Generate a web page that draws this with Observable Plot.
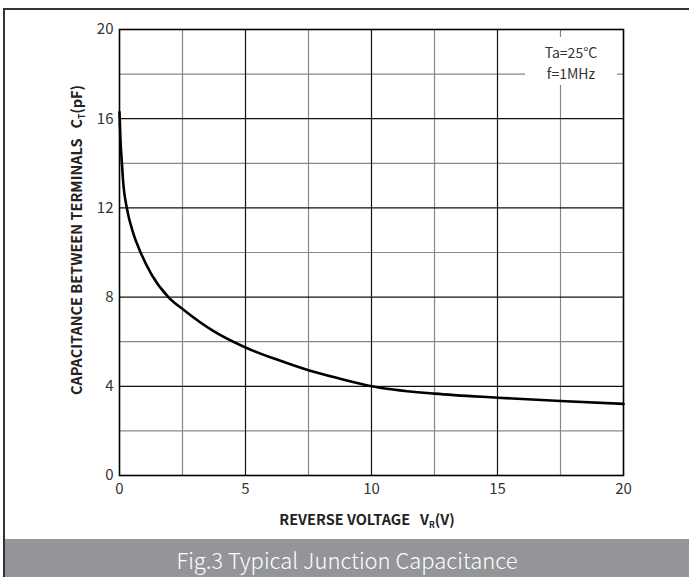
<!DOCTYPE html>
<html>
<head>
<meta charset="utf-8">
<script src="https://cdn.jsdelivr.net/npm/d3@7"></script>
<script src="https://cdn.jsdelivr.net/npm/@observablehq/plot@0.6"></script>
<style>
  html, body { margin: 0; padding: 0; background: #fff; }
  body { width: 689px; height: 577px; position: relative; overflow: hidden; font-family: "Noto Sans CJK SC", "Noto Sans", sans-serif; }
  #frame { position: absolute; left: 3px; top: 8px; width: 720px; height: 620px; border-left: 2px solid #333; border-top: 2px solid #333; box-sizing: border-box; }
  #chart { position: absolute; left: 0; top: 0; }
  #legend { position: absolute; left: 525px; top: 37px; width: 92px; height: 48px; background: #fff; color: #333; font-size: 14px; line-height: 21px; text-align: center; padding-top: 5px; box-sizing: border-box; }
  #caption { position: absolute; left: 5px; top: 539px; width: 684px; height: 38px; background: #939598; color: #fff; font-size: 22px; font-weight: 300; line-height: 40px; text-align: center; }
</style>
</head>
<body>
<div id="frame"></div>
<div id="chart"></div>
<div id="legend">Ta=25°C<br>f=1MHz</div>
<div id="caption">Fig.3 Typical Junction Capacitance</div>
<script>
// Data
const voltage     = [0, 0.04, 0.09, 0.15, 0.29, 0.55, 0.82, 1.28, 1.94, 2.54, 3.75, 5, 6.25, 7.5, 8.75, 10, 12.5, 15, 17.5, 20];
const capacitance = [16.3, 15.0, 14.1, 13.1, 12.0, 10.85, 10.05, 9.0, 8.0, 7.43, 6.46, 5.74, 5.2, 4.72, 4.34, 4.0, 3.67, 3.49, 3.34, 3.21];
const xTicks = [0, 5, 10, 15, 20];
const yTicks = [0, 4, 8, 12, 16, 20];
const xMinor = [2.5, 7.5, 12.5, 17.5];
const xMajor = [5, 10, 15];
const yMinor = [2, 6, 10, 14, 18];
const yMajor = [4, 8, 12, 16];

const data = voltage.map((v, i) => ({v, c: capacitance[i]}));

const plot = Plot.plot({
  width: 689,
  height: 539,
  marginLeft: 119,
  marginRight: 66,
  marginTop: 29,
  marginBottom: 64,
  style: {fontFamily: '"Noto Sans CJK SC", "Noto Sans", sans-serif', fontSize: "15px", color: "#333", background: "transparent"},
  x: {domain: [0, 20]},
  y: {domain: [0, 20]},
  marks: [
    Plot.ruleX(xMinor, {stroke: "#888", strokeWidth: 1.2}),
    Plot.ruleY(yMinor, {stroke: "#888", strokeWidth: 1.2}),
    Plot.ruleX(xMajor, {stroke: "#111", strokeWidth: 1.2}),
    Plot.ruleY(yMajor, {stroke: "#111", strokeWidth: 1.2}),
    Plot.frame({stroke: "#000", strokeWidth: 1.6}),
    Plot.line(data, {x: "v", y: "c", curve: "monotone-x", stroke: "#000", strokeWidth: 2.6}),
    Plot.axisX(xTicks, {tickSize: 0, tickPadding: 8, label: null, fontSize: 15}),
    Plot.axisY(yTicks, {tickSize: 0, tickPadding: 6, label: null, fontSize: 15})
  ]
});

const svg = d3.select(plot);
// x-axis title with subscript
const xt = svg.append("text")
  .attr("x", 367).attr("y", 525)
  .attr("text-anchor", "middle")
  .attr("font-size", 14.5).attr("font-weight", "bold").attr("fill", "#222");
xt.append("tspan").text("REVERSE VOLTAGE   V");
xt.append("tspan").attr("font-size", 8.5).attr("dy", 3).text("R");
xt.append("tspan").attr("dy", -3).text("(V)");

// y-axis title with subscript
const yt = svg.append("text")
  .attr("transform", "translate(82,240) rotate(-90)")
  .attr("text-anchor", "middle")
  .attr("font-size", 14.5).attr("font-weight", "bold").attr("fill", "#222");
yt.append("tspan").text("CAPACITANCE BETWEEN TERMINALS   C");
yt.append("tspan").attr("font-size", 8.5).attr("dy", 3).text("T");
yt.append("tspan").attr("dy", -3).text("(pF)");

document.getElementById("chart").appendChild(plot);
</script>
</body>
</html>
